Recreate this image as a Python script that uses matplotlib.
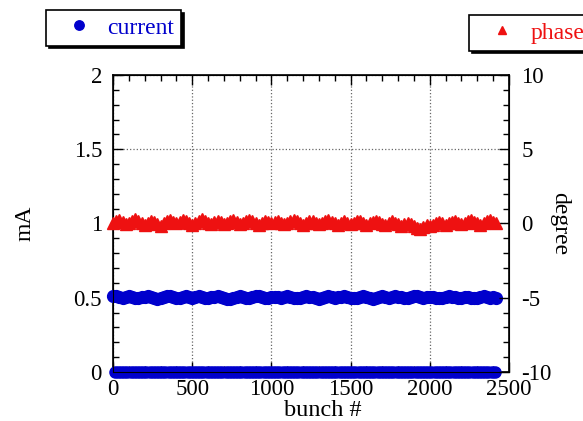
import numpy as np
import matplotlib
matplotlib.use("Agg")
import matplotlib.pyplot as plt
from matplotlib.ticker import MultipleLocator, FormatStrFormatter

plt.rcParams['font.family'] = ['Liberation Serif', 'DejaVu Serif']
plt.rcParams['axes.unicode_minus'] = False

# filled bunches (every 20th) and the empty ones in between
bunch = np.arange(0, 2430, 20)
empty_bunch = np.arange(10, 2430, 20)

# current per filled bunch, mA
current = [0.515, 0.512, 0.505, 0.498, 0.503, 0.510, 0.507, 0.500, 0.495, 0.502,
           0.508, 0.512, 0.506, 0.499, 0.494, 0.500, 0.507, 0.513, 0.509, 0.503,
           0.497, 0.501, 0.508, 0.511, 0.504, 0.498, 0.503, 0.509, 0.505, 0.500,
           0.496, 0.502, 0.507, 0.512, 0.508, 0.501, 0.494, 0.490, 0.497, 0.504,
           0.510, 0.507, 0.501, 0.497, 0.503, 0.509, 0.513, 0.506, 0.500, 0.496,
           0.502, 0.508, 0.505, 0.499, 0.503, 0.510, 0.507, 0.501, 0.496, 0.500,
           0.506, 0.511, 0.508, 0.502, 0.497, 0.492, 0.498, 0.505, 0.509, 0.504,
           0.499, 0.503, 0.508, 0.512, 0.506, 0.500, 0.495, 0.501, 0.507, 0.510,
           0.505, 0.499, 0.494, 0.498, 0.504, 0.509, 0.506, 0.501, 0.505, 0.511,
           0.508, 0.502, 0.497, 0.501, 0.507, 0.512, 0.509, 0.503, 0.498, 0.502,
           0.508, 0.505, 0.499, 0.495, 0.500, 0.506, 0.510, 0.507, 0.502, 0.497,
           0.501, 0.506, 0.504, 0.499, 0.495, 0.500, 0.505, 0.509, 0.504, 0.500,
           0.503, 0.498]
empty_current = [0.0] * len(empty_bunch)

# phase per filled bunch, degree
phase = [0.05, 0.15, 0.25, 0.10, -0.05, 0.05, 0.20, 0.30, 0.15, 0.00,
         -0.10, 0.05, 0.20, 0.10, -0.05, -0.15, 0.00, 0.15, 0.25, 0.10,
         0.00, 0.10, 0.25, 0.15, 0.00, -0.10, 0.05, 0.20, 0.30, 0.15,
         0.05, -0.05, 0.10, 0.20, 0.10, -0.05, 0.05, 0.15, 0.25, 0.10,
         -0.05, 0.00, 0.15, 0.25, 0.15, 0.00, -0.10, 0.05, 0.20, 0.10,
         0.00, 0.10, 0.20, 0.05, -0.05, 0.05, 0.15, 0.25, 0.15, 0.00,
         -0.10, 0.00, 0.15, 0.20, 0.05, -0.05, 0.05, 0.20, 0.25, 0.10,
         0.00, -0.10, 0.05, 0.15, 0.05, -0.05, 0.05, 0.20, 0.15, 0.00,
         -0.10, 0.00, 0.10, 0.20, 0.10, -0.05, -0.10, 0.05, 0.15, 0.05,
         -0.05, -0.15, -0.05, 0.05, -0.05, -0.20, -0.30, -0.40, -0.25, -0.10,
         -0.20, -0.10, 0.00, 0.10, 0.00, -0.10, 0.00, 0.10, 0.20, 0.05,
         -0.05, 0.05, 0.15, 0.25, 0.10, 0.00, -0.10, 0.05, 0.20, 0.25,
         0.10, 0.05]

blue = '#0000cc'
red = '#ee1111'

fig = plt.figure(figsize=(5.83, 4.21), dpi=100)
ax = fig.add_axes([0.194, 0.1164, 0.679, 0.7055])
ax2 = ax.twinx()

ax.plot(empty_bunch, empty_current, 'o', color=blue, ms=8, mec=blue, clip_on=False, zorder=3)
l1, = ax.plot(bunch, current, 'o', color=blue, ms=8.5, mec=blue, clip_on=False, zorder=3)
l2, = ax2.plot(bunch, phase, '^', color=red, ms=9, mec=red, clip_on=False, zorder=3)

ax.set_xlim(0, 2500)
ax.set_ylim(0, 2)
ax2.set_ylim(-10, 10)

ax.xaxis.set_major_locator(MultipleLocator(500))
ax.xaxis.set_minor_locator(MultipleLocator(100))
ax.yaxis.set_major_locator(MultipleLocator(0.5))
ax.yaxis.set_minor_locator(MultipleLocator(0.1))
ax.yaxis.set_major_formatter(FormatStrFormatter('%g'))
ax2.yaxis.set_major_locator(MultipleLocator(5))
ax2.yaxis.set_minor_locator(MultipleLocator(1))
ax2.yaxis.set_major_formatter(FormatStrFormatter('%g'))

ax.tick_params(which='both', direction='in', top=True, labelsize=16.5, width=1)
ax.tick_params(which='major', length=7)
ax.tick_params(which='minor', length=4)
ax.tick_params(axis='y', pad=8)
ax.tick_params(axis='x', pad=5)
ax2.tick_params(which='both', direction='in', labelsize=16.5, width=1, pad=9)
ax2.tick_params(which='major', length=7)
ax2.tick_params(which='minor', length=4)

ax.grid(True, which='major', linestyle=':', color='#666666', linewidth=0.9)
ax.set_axisbelow(True)
for sp in ax.spines.values():
    sp.set_linewidth(1.2)

ax.set_xlabel('bunch #', fontsize=17.5)
ax.xaxis.set_label_coords(0.53, -0.095)
ax.set_ylabel('mA', fontsize=17, labelpad=27)
ax2.set_ylabel('degree', fontsize=17, rotation=-90, labelpad=13)

shadow = {'color': 'black', 'alpha': 1}
leg1 = fig.legend([l1], ['current'], loc='upper left', bbox_to_anchor=(46 / 583, 1 - 10 / 421),
                  fontsize=17, frameon=True, fancybox=False, shadow=shadow,
                  handlelength=2.2, handletextpad=0.1, borderpad=0.3, borderaxespad=0,
                  markerscale=0.8)
leg1.get_frame().set_edgecolor('black')
leg1.get_frame().set_linewidth(1.2)
for t in leg1.get_texts():
    t.set_color(blue)

leg2 = fig.legend([l2], ['phase'], loc='upper left', bbox_to_anchor=(469 / 583, 1 - 15 / 421),
                  fontsize=17, frameon=True, fancybox=False, shadow=shadow,
                  handlelength=2.2, handletextpad=0.1, borderpad=0.3, borderaxespad=0,
                  markerscale=0.65)
leg2.get_frame().set_edgecolor('black')
leg2.get_frame().set_linewidth(1.2)
for t in leg2.get_texts():
    t.set_color(red)

fig.savefig('out.png', dpi=100)
